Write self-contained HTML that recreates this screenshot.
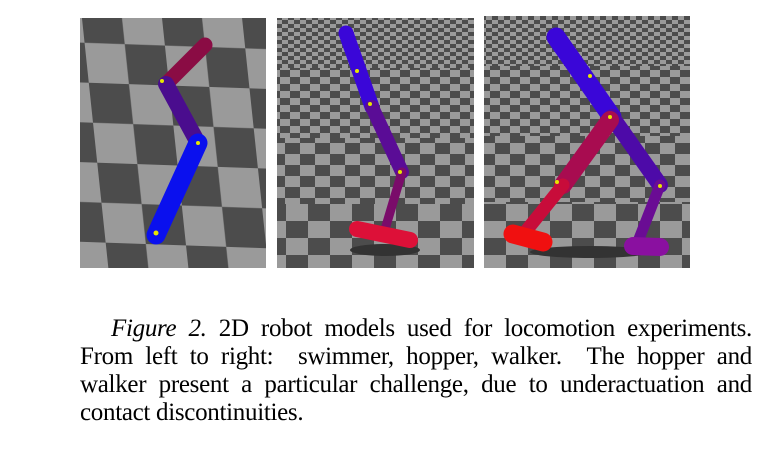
<!DOCTYPE html>
<html><head><meta charset="utf-8">
<style>
html,body{margin:0;padding:0;background:#fff;width:768px;height:456px;overflow:hidden}
svg{position:absolute;left:0;top:0}
#cap{position:absolute;left:80px;top:315px;width:672px;font-family:"Liberation Serif",serif;font-size:25px;line-height:28px;color:#000}
.ln{text-align:justify;text-align-last:justify;white-space:nowrap;height:28px;letter-spacing:-0.3px}
.ln.first{padding-left:31px}
.ln.last{text-align-last:left}
</style></head><body>
<svg width="768" height="300">
<defs>
<pattern id="c1" width="80" height="80" patternUnits="userSpaceOnUse" patternTransform="skewX(8) rotate(2)">
<rect width="80" height="80" fill="#9a9a9a"/><rect width="40" height="40" fill="#4c4c4c"/><rect x="40" y="40" width="40" height="40" fill="#4c4c4c"/></pattern>
<pattern id="s1" width="12" height="8" patternUnits="userSpaceOnUse"><rect width="12" height="8" fill="#9a9a9a"/><rect width="6" height="4" fill="#4c4c4c"/><rect x="6" y="4" width="6" height="4" fill="#4c4c4c"/></pattern>
<pattern id="s2" width="20" height="14" patternUnits="userSpaceOnUse"><rect width="20" height="14" fill="#9a9a9a"/><rect width="10" height="7" fill="#4c4c4c"/><rect x="10" y="7" width="10" height="7" fill="#4c4c4c"/></pattern>
<pattern id="s3" width="30" height="22" patternUnits="userSpaceOnUse"><rect width="30" height="22" fill="#9a9a9a"/><rect width="15" height="11" fill="#4c4c4c"/><rect x="15" y="11" width="15" height="11" fill="#4c4c4c"/></pattern>
<pattern id="s4" width="44" height="34" patternUnits="userSpaceOnUse"><rect width="44" height="34" fill="#9a9a9a"/><rect width="22" height="17" fill="#4c4c4c"/><rect x="22" y="17" width="22" height="17" fill="#4c4c4c"/></pattern>
</defs>
<g>
<rect x="80" y="18" width="186" height="250" fill="url(#c1)"/>
<g stroke-linecap="round" fill="none">
<line x1="205" y1="45" x2="166" y2="84" stroke="#8a0c44" stroke-width="15"/>
<line x1="166" y1="84" x2="198" y2="143" stroke="#4a0d8e" stroke-width="16"/>
<line x1="198" y1="143" x2="156" y2="235" stroke="#0a10ee" stroke-width="19"/>
</g>
<circle cx="162" cy="81" r="2" fill="#e6e600"/><circle cx="198" cy="143" r="2" fill="#e6e600"/><circle cx="156" cy="233" r="2.5" fill="#e6e600"/>
</g>
<g>
<rect x="277" y="18" width="197" height="50" fill="url(#s1)"/>
<rect x="277" y="68" width="197" height="70" fill="url(#s2)"/>
<rect x="277" y="138" width="197" height="66" fill="url(#s3)"/>
<rect x="277" y="204" width="197" height="64" fill="url(#s4)"/>
<ellipse cx="385" cy="250" rx="35" ry="6" fill="#333"/>
<g stroke-linecap="round" fill="none">
<line x1="346" y1="33" x2="372" y2="107" stroke="#3a06d8" stroke-width="15"/>
<line x1="372" y1="107" x2="402" y2="172" stroke="#5a0c96" stroke-width="14"/>
<line x1="402" y1="172" x2="386" y2="226" stroke="#7a0c6a" stroke-width="9"/>
<line x1="357" y1="229" x2="410" y2="240" stroke="#dd1038" stroke-width="16"/>
</g>
<circle cx="357" cy="71" r="2" fill="#e6e600"/><circle cx="370" cy="104" r="2" fill="#e6e600"/><circle cx="400" cy="172" r="2" fill="#e6e600"/>
</g>
<g>
<rect x="484" y="16" width="206" height="50" fill="url(#s1)"/>
<rect x="484" y="66" width="206" height="70" fill="url(#s2)"/>
<rect x="484" y="136" width="206" height="66" fill="url(#s3)"/>
<rect x="484" y="202" width="206" height="66" fill="url(#s4)"/>
<ellipse cx="590" cy="252" rx="60" ry="6" fill="#333"/>
<g stroke-linecap="round" fill="none">
<line x1="556" y1="37" x2="612" y2="117" stroke="#3a06d8" stroke-width="19"/>
<line x1="612" y1="117" x2="660" y2="185" stroke="#4d0aa8" stroke-width="16"/>
<line x1="660" y1="185" x2="637" y2="244" stroke="#6a0c94" stroke-width="11"/>
<line x1="633" y1="246" x2="660" y2="247" stroke="#8a10a0" stroke-width="18"/>
<line x1="610" y1="120" x2="563" y2="185" stroke="#a80c50" stroke-width="18"/>
<line x1="563" y1="185" x2="522" y2="236" stroke="#c80c3a" stroke-width="13"/>
<line x1="513" y1="234" x2="543" y2="242" stroke="#f01010" stroke-width="19"/>
</g>
<circle cx="590" cy="76" r="2" fill="#e6e600"/><circle cx="610" cy="117" r="2" fill="#e6e600"/><circle cx="557" cy="182" r="2" fill="#e6e600"/><circle cx="660" cy="186" r="2" fill="#e6e600"/>
</g>
</svg>
<div id="cap">
<div class="ln first"><i>Figure 2.</i> 2D robot models used for locomotion experiments.</div>
<div class="ln">From left to right: &nbsp;swimmer, hopper, walker. &nbsp;The hopper and</div>
<div class="ln">walker present a particular challenge, due to underactuation and</div>
<div class="ln last">contact discontinuities.</div>
</div>
</body></html>
